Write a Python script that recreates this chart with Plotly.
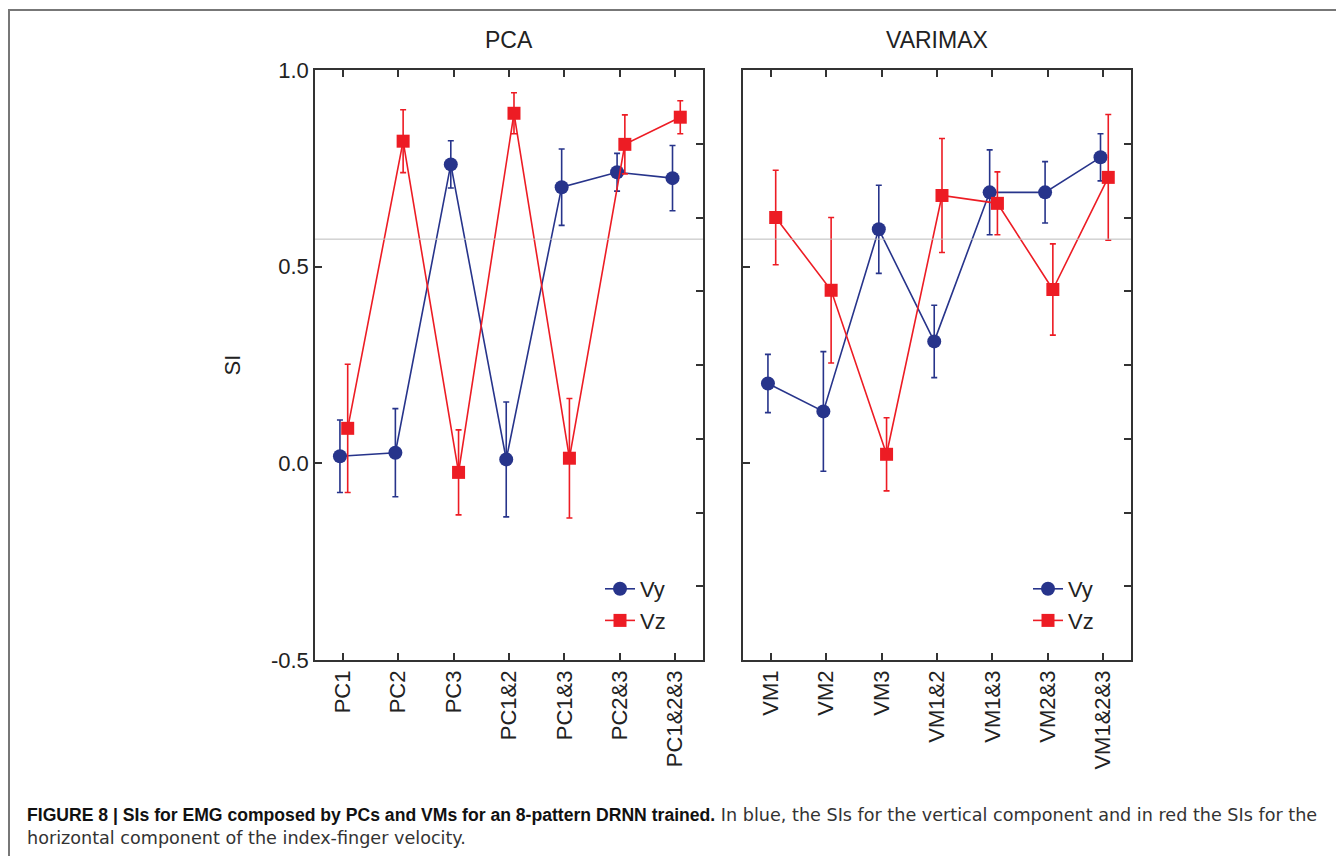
import plotly.graph_objects as go

OFF = 8            # default page margin of the html body
W, H = 1328, 848   # figure size so that the page fits the 1344x864 window

pca_labels = ["PC1", "PC2", "PC3", "PC1&2", "PC1&3", "PC2&3", "PC1&2&3"]
vm_labels = ["VM1", "VM2", "VM3", "VM1&2", "VM1&3", "VM2&3", "VM1&2&3"]

pca_vy = [0.018, 0.027, 0.760, 0.010, 0.702, 0.740, 0.725]
pca_vy_err = [0.092, 0.112, 0.060, 0.146, 0.097, 0.048, 0.083]
pca_vz = [0.089, 0.819, -0.023, 0.890, 0.013, 0.811, 0.880]
pca_vz_err = [0.163, 0.080, 0.108, 0.052, 0.152, 0.075, 0.042]

vm_vy = [0.203, 0.132, 0.595, 0.310, 0.689, 0.689, 0.778]
vm_vy_err = [0.074, 0.152, 0.112, 0.092, 0.108, 0.078, 0.060]
vm_vz = [0.625, 0.440, 0.023, 0.681, 0.661, 0.442, 0.727]
vm_vz_err = [0.120, 0.185, 0.093, 0.145, 0.080, 0.116, 0.160]

threshold = 0.57
y_ticks = [-0.5, 0.0, 0.5, 1.0]
y_ticktext = ["-0.5", "0.0", "0.5", "1.0"]

BLUE = "#27348B"
RED = "#ED1C24"
FONT = "Liberation Sans, Arial, Helvetica, sans-serif"
AXC = "#333333"
TXT = "#222222"

def px_x(p):
    return (p - OFF) / W

def px_y(p):
    return 1 - (p - OFF) / H

fig = go.Figure()

def add_panel(idx, vy, vye, vz, vze, legend_name):
    xa = "x" if idx == 1 else "x2"
    ya = "y" if idx == 1 else "y2"
    n = len(vy)
    xs_vy = [i - 0.05 for i in range(n)]
    xs_vz = [i + 0.09 for i in range(n)]
    fig.add_trace(go.Scatter(
        x=xs_vy, y=vy, name="Vy", mode="lines+markers",
        line=dict(color=BLUE, width=1.6),
        marker=dict(symbol="circle", size=14, color=BLUE),
        error_y=dict(type="data", array=vye, visible=True, color=BLUE, thickness=1.6, width=3),
        xaxis=xa, yaxis=ya, legend=legend_name, showlegend=True))
    fig.add_trace(go.Scatter(
        x=xs_vz, y=vz, name="Vz", mode="lines+markers",
        line=dict(color=RED, width=1.6),
        marker=dict(symbol="square", size=13, color=RED),
        error_y=dict(type="data", array=vze, visible=True, color=RED, thickness=1.6, width=3),
        xaxis=xa, yaxis=ya, legend=legend_name, showlegend=True))

add_panel(1, pca_vy, pca_vy_err, pca_vz, pca_vz_err, "legend")
add_panel(2, vm_vy, vm_vy_err, vm_vz, vm_vz_err, "legend2")

# invisible traces for the right-side secondary tick axes
fig.add_trace(go.Scatter(x=[0], y=[0], xaxis="x", yaxis="y3", mode="markers",
                         marker=dict(opacity=0), showlegend=False, hoverinfo="skip"))
fig.add_trace(go.Scatter(x=[0], y=[0], xaxis="x2", yaxis="y4", mode="markers",
                         marker=dict(opacity=0), showlegend=False, hoverinfo="skip"))

dom1 = [px_x(315), px_x(703)]
dom2 = [px_x(743), px_x(1131)]
ydom = [px_y(660), px_y(70)]

xcommon = dict(range=[-0.5, 6.5], tickmode="array", tickvals=list(range(7)),
               tickangle=-90, ticks="inside", ticklen=7, tickwidth=1.5, tickcolor=AXC,
               showline=True, linecolor=AXC, linewidth=1.5, mirror="ticks",
               showgrid=False, zeroline=False,
               tickfont=dict(family=FONT, size=22, color=TXT))
ycommon = dict(range=[-0.5, 1.0], tickmode="array", tickvals=y_ticks,
               ticks="inside", ticklen=7, tickwidth=1.5, tickcolor=AXC,
               showline=True, linecolor=AXC, linewidth=1.5, mirror=True,
               showgrid=False, zeroline=False,
               tickfont=dict(family=FONT, size=22, color=TXT))
sec = dict(range=[0, 8], tickmode="array", tickvals=list(range(1, 8)),
           ticks="inside", ticklen=7, tickwidth=1.5, tickcolor=AXC,
           showticklabels=False, showline=False, showgrid=False, zeroline=False,
           side="right")

legfont = dict(family=FONT, size=22, color=TXT)
fig.update_layout(
    width=W, height=H,
    margin=dict(l=0, r=0, t=0, b=0, autoexpand=False),
    paper_bgcolor="white", plot_bgcolor="white",
    xaxis=dict(domain=dom1, anchor="y", ticktext=pca_labels, **xcommon),
    xaxis2=dict(domain=dom2, anchor="y2", ticktext=vm_labels, **xcommon),
    yaxis=dict(domain=ydom, anchor="x", ticktext=y_ticktext,
               title=dict(text="SI", font=dict(family=FONT, size=22, color=TXT), standoff=24),
               **ycommon),
    yaxis2=dict(domain=ydom, anchor="x2", ticktext=y_ticktext, showticklabels=False, **ycommon),
    yaxis3=dict(overlaying="y", anchor="x", **sec),
    yaxis4=dict(overlaying="y2", anchor="x2", **sec),
    legend=dict(x=px_x(600), y=px_y(568), xanchor="left", yanchor="top",
                bgcolor="rgba(0,0,0,0)", font=legfont, itemwidth=30, tracegroupgap=0),
    legend2=dict(x=px_x(1028), y=px_y(568), xanchor="left", yanchor="top",
                 bgcolor="rgba(0,0,0,0)", font=legfont, itemwidth=30, tracegroupgap=0),
    showlegend=True,
)

# threshold reference lines
for xr, yr in (("x domain", "y"), ("x2 domain", "y2")):
    fig.add_shape(type="line", xref=xr, yref=yr, x0=0, x1=1, y0=threshold, y1=threshold,
                  line=dict(color="#BBBBBB", width=1))

# panel titles
for xr, txt in (("x domain", "PCA"), ("x2 domain", "VARIMAX")):
    fig.add_annotation(text=txt, xref=xr, yref="paper", x=0.5, y=px_y(40),
                       xanchor="center", yanchor="middle", showarrow=False,
                       font=dict(family=FONT, size=23, color=TXT))

# figure frame (top and left edges)
fig.add_shape(type="path", xref="paper", yref="paper",
              path=f"M {px_x(9)} 0 L {px_x(9)} {px_y(10)} L 1 {px_y(10)}",
              line=dict(color="#777777", width=2))

# caption
REG = "font-family:'DejaVu Sans', sans-serif;color:#333333"
cap1 = ("<b>FIGURE 8 | SIs for EMG composed by PCs and VMs for an 8-pattern DRNN trained.</b>"
        f"<span style=\"{REG}\"> In blue, the SIs for the vertical component and in red the SIs for the</span>")
cap2 = f"<span style=\"{REG}\">horizontal component of the index-finger velocity.</span>"
fig.add_annotation(text=cap1, xref="paper", yref="paper", x=px_x(25), y=px_y(815),
                   xanchor="left", yanchor="middle", showarrow=False, align="left",
                   font=dict(family=FONT, size=17.6, color="#111111"))
fig.add_annotation(text=cap2, xref="paper", yref="paper", x=px_x(25), y=px_y(838),
                   xanchor="left", yanchor="middle", showarrow=False, align="left",
                   font=dict(family=FONT, size=17.6, color="#111111"))

fig.write_html("out.html")
